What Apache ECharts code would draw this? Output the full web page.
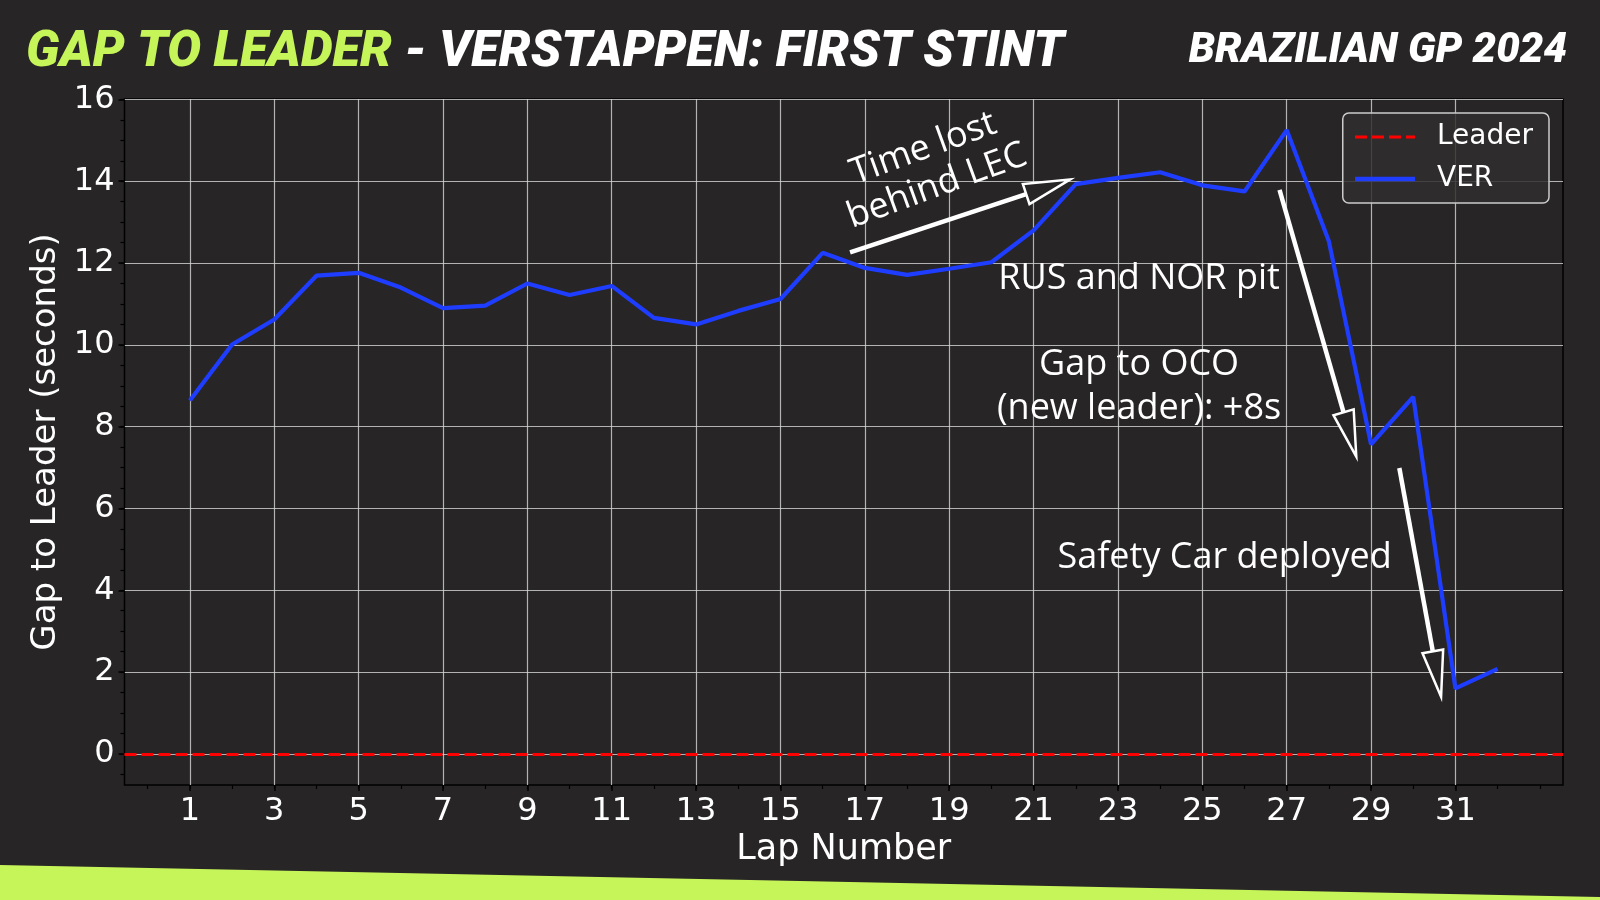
<!DOCTYPE html>
<html>
<head>
<meta charset="utf-8">
<title>Gap to leader - Verstappen first stint</title>
<script src="https://cdn.jsdelivr.net/npm/echarts@6/dist/echarts.min.js"></script>
<style>
  html, body { margin: 0; padding: 0; background: #272525; }
  #chart { width: 1600px; height: 900px; }
</style>
</head>
<body>
<div id="chart"></div>
<script>
// laps of the first stint
const laps = [1, 2, 3, 4, 5, 6, 7, 8, 9, 10, 11, 12, 13, 14, 15, 16,
  17, 18, 19, 20, 21, 22, 23, 24, 25, 26, 27, 28, 29, 30, 31, 32]
// VER gap to the leader (seconds)
const verGap = [8.64, 10.01, 10.62, 11.69, 11.76, 11.40, 10.90, 10.96, 11.50, 11.22,
  11.44, 10.66, 10.50, 10.83, 11.12, 12.25, 11.88, 11.71, 11.86, 12.02,
  12.80, 13.93, 14.08, 14.22, 13.90, 13.75, 15.25, 12.53, 7.57, 8.73, 1.60, 2.08]
// the leader is always 0 s to himself
const leaderGap = 0
// tick labels
const lapTicks = [1, 3, 5, 7, 9, 11, 13, 15, 17, 19, 21, 23, 25, 27, 29, 31]
const gapTicks = [0, 2, 4, 6, 8, 10, 12, 14, 16]

// annotations, in lap / seconds
const notes = [
  { text: 'Time lost\nbehind LEC', lap: 18.55, gap: 14.34, rotate: 20, lineHeight: 40 },
  { text: 'RUS and NOR pit', lap: 23.5, gap: 11.61, rotate: 0, lineHeight: 40 },
  { text: 'Gap to OCO\n(new leader): +8s', lap: 23.5, gap: 8.97, rotate: 0, lineHeight: 44 },
  { text: 'Safety Car deployed', lap: 25.53, gap: 4.79, rotate: 0, lineHeight: 40 }
]
// arrows: from [lap, gap] to [lap, gap]
const arrows = [
  [16.65, 12.26, 21.86, 14.04],
  [26.83, 13.79, 28.65, 7.27],
  [29.67, 6.99, 30.66, 1.40]
]

const bg = '#272525'
const lime = '#c6f55a'

// minor ticks
let lapMinor = []
for (let i = 0; i <= 33; i++) lapMinor.push(i)
let gapMinor = []
for (let i = -1; i <= 32; i++) gapMinor.push(i / 2)

let verData = []
for (let i = 0; i < laps.length; i++) {
  verData.push([laps[i], verGap[i]])
}

function renderArrow(params, api) {
  let p0 = api.coord([api.value(0), api.value(1)])
  let p1 = api.coord([api.value(2), api.value(3)])
  let dx = p1[0] - p0[0]
  let dy = p1[1] - p0[1]
  let len = Math.sqrt(dx * dx + dy * dy)
  let ux = dx / len
  let uy = dy / len
  let headLen = 46
  let headHalf = 10.5
  let bx = p1[0] - ux * headLen
  let by = p1[1] - uy * headLen
  return {
    type: 'group',
    children: [
      {
        type: 'line',
        shape: { x1: p0[0], y1: p0[1], x2: bx, y2: by },
        style: { stroke: '#ffffff', lineWidth: 4.5 }
      },
      {
        type: 'polygon',
        shape: {
          points: [
            [p1[0], p1[1]],
            [bx - uy * headHalf, by + ux * headHalf],
            [bx + uy * headHalf, by - ux * headHalf]
          ]
        },
        style: { fill: bg, stroke: '#ffffff', lineWidth: 2.5 }
      }
    ]
  }
}

function renderNote(params, api) {
  let n = notes[params.dataIndex]
  let p = api.coord([api.value(0), api.value(1)])
  return {
    type: 'text',
    x: p[0],
    y: p[1],
    rotation: n.rotate * Math.PI / 180,
    style: {
      text: n.text,
      fill: '#ffffff',
      fontFamily: 'Open Sans',
      fontSize: 36,
      fontWeight: 500,
      align: 'center',
      verticalAlign: 'middle',
      lineHeight: n.lineHeight
    }
  }
}

let myChart = echarts.init(document.getElementById('chart'), null, { renderer: 'canvas' })

myChart.setOption({
  backgroundColor: bg,
  animation: false,
  title: [
    {
      text: '{a|GAP TO LEADER}{b| - VERSTAPPEN: FIRST STINT}',
      left: 21,
      top: 23,
      textStyle: {
        rich: {
          a: { color: lime, fontFamily: 'Roboto', fontSize: 50.5, fontWeight: 900, fontStyle: 'italic' },
          b: { color: '#ffffff', fontFamily: 'Roboto', fontSize: 50.5, fontWeight: 900, fontStyle: 'italic' }
        }
      }
    },
    {
      text: 'BRAZILIAN GP 2024',
      right: 28,
      top: 25,
      textStyle: { color: '#ffffff', fontFamily: 'Roboto', fontSize: 42, fontWeight: 900, fontStyle: 'italic' }
    }
  ],
  graphic: [
    {
      // lime stripe at the bottom
      type: 'polygon',
      shape: { points: [[0, 865], [1600, 897], [1600, 900], [0, 900]] },
      style: { fill: lime },
      silent: true
    }
  ],
  legend: {
    data: [
      { name: 'Leader', lineStyle: { width: 3 } },
      { name: 'VER', lineStyle: { width: 4.5 } }
    ],
    orient: 'vertical',
    right: 51,
    top: 113,
    itemWidth: 60,
    itemHeight: 14,
    itemGap: 14,
    padding: [10, 16, 10, 10],
    backgroundColor: 'rgba(48,46,46,0.85)',
    borderColor: '#cccccc',
    borderWidth: 1.5,
    borderRadius: 6,
    itemStyle: { opacity: 0 },
    textStyle: {
      color: '#ffffff',
      fontFamily: 'DejaVu Sans',
      fontSize: 28,
      padding: [0, 0, 0, 17]
    }
  },
  grid: {
    show: true,
    left: 124.5,
    right: 37,
    top: 99,
    bottom: 115,
    borderColor: '#000000',
    borderWidth: 1.5,
    backgroundColor: 'transparent'
  },
  xAxis: [
    {
      type: 'value',
      min: -0.55,
      max: 33.55,
      name: 'Lap Number',
      nameLocation: 'middle',
      nameGap: 47,
      nameTextStyle: { color: '#ffffff', fontFamily: 'DejaVu Sans', fontSize: 35 },
      axisLine: { show: false, onZero: false },
      axisTick: { show: true, customValues: lapTicks, length: 6, lineStyle: { color: '#000000', width: 1.5 } },
      axisLabel: { customValues: lapTicks, color: '#ffffff', fontFamily: 'DejaVu Sans', fontSize: 32, margin: 11 },
      splitLine: { show: true, lineStyle: { color: 'rgba(215,215,215,0.8)', width: 1.2 } }
    },
    {
      // minor ticks
      type: 'value',
      min: -0.55,
      max: 33.55,
      position: 'bottom',
      axisLine: { show: false, onZero: false },
      axisTick: { show: true, customValues: lapMinor, length: 4, lineStyle: { color: '#000000', width: 1.2 } },
      axisLabel: { show: false },
      splitLine: { show: false }
    }
  ],
  yAxis: [
    {
      type: 'value',
      min: -0.76,
      max: 16.01,
      name: 'Gap to Leader (seconds)',
      nameLocation: 'middle',
      nameGap: 56,
      nameTextStyle: { color: '#ffffff', fontFamily: 'DejaVu Sans', fontSize: 34 },
      axisLine: { show: false, onZero: false },
      axisTick: { show: true, customValues: gapTicks, length: 6, lineStyle: { color: '#000000', width: 1.5 } },
      axisLabel: { customValues: gapTicks, color: '#ffffff', fontFamily: 'DejaVu Sans', fontSize: 32, margin: 10 },
      splitLine: { show: true, lineStyle: { color: 'rgba(215,215,215,0.8)', width: 1.2 } }
    },
    {
      // minor ticks
      type: 'value',
      min: -0.76,
      max: 16.01,
      position: 'left',
      axisLine: { show: false, onZero: false },
      axisTick: { show: true, customValues: gapMinor, length: 4, lineStyle: { color: '#000000', width: 1.2 } },
      axisLabel: { show: false },
      splitLine: { show: false }
    }
  ],
  series: [
    {
      name: 'Leader',
      type: 'line',
      data: [],
      symbol: 'none',
      lineStyle: { color: '#ff0000', width: 3, type: [12, 5] },
      itemStyle: { color: '#ff0000' },
      markLine: {
        silent: true,
        symbol: 'none',
        label: { show: false },
        lineStyle: { color: '#ff0000', width: 3, type: [12, 5] },
        data: [{ yAxis: leaderGap }]
      },
      z: 3
    },
    {
      name: 'VER',
      type: 'line',
      data: verData,
      symbol: 'none',
      lineStyle: { color: '#1e3dff', width: 4.2 },
      itemStyle: { color: '#1e3dff' },
      z: 4
    },
    {
      name: 'arrows',
      type: 'custom',
      silent: true,
      data: arrows,
      encode: { x: [0, 2], y: [1, 3] },
      renderItem: renderArrow,
      z: 5
    },
    {
      name: 'notes',
      type: 'custom',
      silent: true,
      data: notes.map(n => [n.lap, n.gap]),
      renderItem: renderNote,
      z: 5
    }
  ]
})
</script>
</body>
</html>
